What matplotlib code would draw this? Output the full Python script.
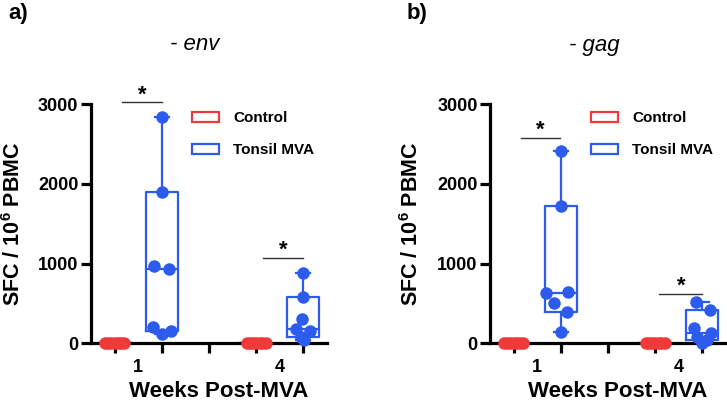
import matplotlib
matplotlib.use("Agg")
import matplotlib.pyplot as plt
import matplotlib.transforms as mtransforms
import numpy as np
from matplotlib.patches import Patch

plt.rcParams["font.family"] = ["Liberation Sans", "DejaVu Sans"]
plt.rcParams["mathtext.fontset"] = "custom"
plt.rcParams["mathtext.rm"] = "Liberation Sans:bold"
plt.rcParams["mathtext.bf"] = "Liberation Sans:bold"

# ---- data (SFC / 10^6 PBMC) ----
weeks = ["1", "4"]
groups = ["Control", "Tonsil MVA"]

env_control_wk1 = [0, 0, 0, 0, 0, 0, 0]
env_tonsil_wk1 = [2837, 1895, 975, 929, 209, 155, 113]
env_control_wk4 = [0, 0, 0, 0, 0, 0, 0]
env_tonsil_wk4 = [879, 577, 301, 180, 150, 84, 42]

gag_control_wk1 = [0, 0, 0, 0, 0, 0, 0]
gag_tonsil_wk1 = [2414, 1728, 628, 640, 510, 389, 138]
gag_control_wk4 = [0, 0, 0, 0, 0, 0, 0]
gag_tonsil_wk4 = [514, 418, 188, 125, 83, 42, 10]

# horizontal scatter of the dots inside each box
control_offsets = [-0.2, -0.13, -0.07, 0.0, 0.07, 0.13, 0.2]
env_wk1_offsets = [0, 0, -0.16, 0.16, -0.18, 0.19, 0]
env_wk4_offsets = [0, 0, -0.03, -0.15, 0.14, -0.05, 0.02]
gag_wk1_offsets = [0, 0, -0.31, 0.15, -0.14, 0.14, 0]
gag_wk4_offsets = [-0.14, 0.16, -0.17, 0.18, -0.12, 0.1, 0]

# significance bars: (x_start, x_end, y)
env_sig = [(0.16, 1.0, 3025), (3.14, 4.0, 1075)]
gag_sig = [(0.15, 0.99, 2581), (3.09, 4.0, 619)]

RED = "#F03A3A"
BLUE = "#2D5BEE"
FIG_W, FIG_H = 727, 403


def box_stats(values):
    v = np.asarray(values, dtype=float)
    q1, med, q3 = np.percentile(v, [25, 50, 75], method="weibull")
    return {"med": med, "q1": q1, "q3": q3,
            "whislo": v.min(), "whishi": v.max(), "fliers": []}


def draw_panel(fig, left_px, series, offsets, sig, title, letter, title_x, ylab_x):
    ax = fig.add_axes([left_px / FIG_W, 59.7 / FIG_H, 236 / FIG_W, 239 / FIG_H])
    positions = [0, 1, 3, 4]
    colors = [RED, BLUE, RED, BLUE]

    for pos, vals, offs, col in zip(positions, series, offsets, colors):
        ax.bxp([box_stats(vals)], positions=[pos], widths=0.68, capwidths=[0.3],
               showfliers=False,
               boxprops=dict(color=col, linewidth=1.6),
               whiskerprops=dict(color=col, linewidth=1.6),
               capprops=dict(color=col, linewidth=1.6),
               medianprops=dict(color=col, linewidth=1.6),
               manage_ticks=False)
        ax.plot(pos + np.asarray(offs), vals, "o", color=col, markersize=9,
                markeredgewidth=0, zorder=5, clip_on=False)

    for x0, x1, y in sig:
        ax.plot([x0, x1], [y, y], color="#333333", linewidth=1.0, clip_on=False)
        ax.annotate("*", xy=((x0 + x1) / 2, y), xytext=(0, 1.5),
                    textcoords="offset points", ha="center", va="baseline",
                    fontsize=16, fontweight="bold", annotation_clip=False)

    ax.set_xlim(-0.5, 4.5)
    ax.set_ylim(0, 3000)
    ax.spines["top"].set_visible(False)
    ax.spines["right"].set_visible(False)
    for s in ("left", "bottom"):
        ax.spines[s].set_linewidth(2.3)
    ax.set_yticks([0, 1000, 2000, 3000])
    ax.set_yticklabels(["0", "1000", "2000", "3000"], fontsize=13, fontweight="bold")
    ax.tick_params(axis="y", length=7, width=2.3, pad=2)
    ax.set_xticks([0, 1, 2, 3, 4])
    ax.set_xticklabels([])
    ax.tick_params(axis="x", which="major", length=7, width=2.3)
    ax.set_xticks([0.5, 3.5], minor=True)
    ax.set_xticklabels(weeks, minor=True, fontsize=13, fontweight="bold")
    ax.tick_params(axis="x", which="minor", length=0, pad=11)

    handles = [Patch(facecolor="white", edgecolor=RED, linewidth=1.6),
               Patch(facecolor="white", edgecolor=BLUE, linewidth=1.6)]
    ax.legend(handles, groups, loc="upper left", bbox_to_anchor=(0.43, 0.97),
              frameon=False, prop=dict(size=11, weight="bold"),
              handlelength=1.75, handleheight=0.65, handletextpad=0.9,
              labelspacing=1.15, borderpad=0, borderaxespad=0)

    fig_y = mtransforms.blended_transform_factory(ax.transAxes, fig.transFigure)
    ax.text(0.54, 0.014, "Weeks Post-MVA", transform=fig_y, ha="center",
            va="baseline", fontsize=16, fontweight="bold")
    fig_x = mtransforms.blended_transform_factory(fig.transFigure, ax.transAxes)
    ax.text(ylab_x / FIG_W, 0.5, r"SFC / 10$^{6}$ PBMC", transform=fig_x,
            rotation=90, ha="center", va="center", fontsize=15.5, fontweight="bold")

    fig.text(title_x / FIG_W, 1 - 45 / FIG_H, title, ha="center", va="center",
             fontsize=16, style="italic")
    fig.text((left_px - 83) / FIG_W, 1 - 14 / FIG_H, letter, ha="left", va="center",
             fontsize=16, fontweight="bold")
    return ax


def main() -> None:
    fig = plt.figure(figsize=(FIG_W / 100, FIG_H / 100), dpi=100)

    draw_panel(fig, 91,
               [env_control_wk1, env_tonsil_wk1, env_control_wk4, env_tonsil_wk4],
               [control_offsets, env_wk1_offsets, control_offsets, env_wk4_offsets],
               env_sig, "- env", "a)", 195, 14)
    draw_panel(fig, 490,
               [gag_control_wk1, gag_tonsil_wk1, gag_control_wk4, gag_tonsil_wk4],
               [control_offsets, gag_wk1_offsets, control_offsets, gag_wk4_offsets],
               gag_sig, "- gag", "b)", 594, 412)

    fig.savefig("out.png", dpi=100)
    plt.close(fig)


if __name__ == "__main__":
    main()
